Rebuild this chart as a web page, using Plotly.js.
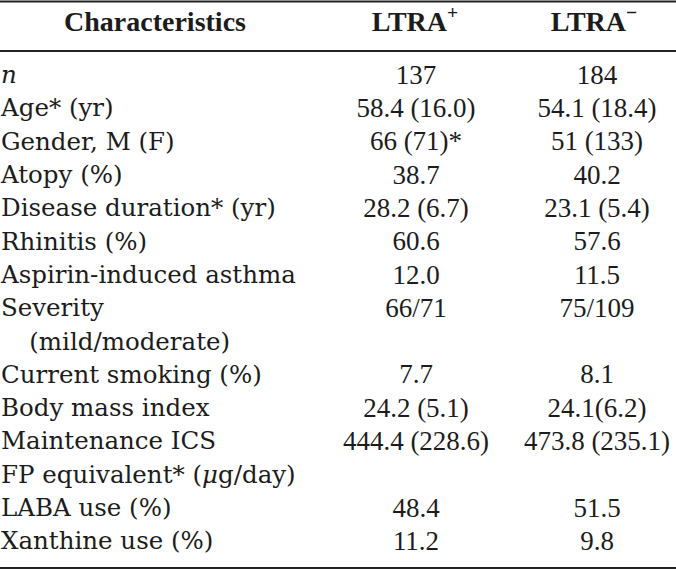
<!DOCTYPE html>
<html>
<head>
<meta charset="utf-8">
<script src="https://cdn.plot.ly/plotly-3.0.1.min.js"></script>
<style>html,body{margin:0;padding:0;background:#fff;}#chart{width:676px;height:570px;}</style>
</head>
<body>
<div id="chart"></div>
<script>
// ---- data ----
const headers = ['<b>Characteristics</b>', '<b>LTRA<sup>+</sup></b>', '<b>LTRA<sup>−</sup></b>'];
const characteristics = [
  '<i>n</i>', 'Age* (yr)', 'Gender, M (F)', 'Atopy (%)', 'Disease duration* (yr)',
  'Rhinitis (%)', 'Aspirin-induced asthma', 'Severity', '\u00a0\u00a0\u00a0\u2009(mild/moderate)',
  'Current smoking (%)', 'Body mass index', 'Maintenance ICS',
  'FP equivalent* (<i>μ</i>g/day)', 'LABA use (%)', 'Xanthine use (%)'
];
const ltraPos = ['137', '58.4 (16.0)', '66 (71)*', '38.7', '28.2 (6.7)', '60.6', '12.0',
  '66/71', '', '7.7', '24.2 (5.1)', '444.4 (228.6)', '', '48.4', '11.2'];
const ltraNeg = ['184', '54.1 (18.4)', '51 (133)', '40.2', '23.1 (5.4)', '57.6', '11.5',
  '75/109', '', '8.1', '24.1(6.2)', '473.8 (235.1)', '', '51.5', '9.8'];

// ---- layout constants ----
const W = 676, H = 570;
const pitch = 33.3;          // px per row
const row0Center = 77;       // px, centre of first body row
const headerCenter = 24;     // px
const colX = [1, 416, 597];
const headerX = [155, 415, 594];

const headerRow = (headerCenter - row0Center) / pitch;
const yTop = -row0Center / pitch;
const yBot = (H - row0Center) / pitch;

const ink = '#1c1c1c';
const labelFont = {family: '"DejaVu Serif", serif', size: 24.5, color: ink};
const valueFont = {family: '"Liberation Serif", "Times New Roman", serif', size: 27, color: ink};
const headFont = {family: '"Liberation Serif", "Times New Roman", serif', size: 28, color: ink};

// build one text trace per column, skipping empty cells
function column(texts, x, pos, font) {
  const idx = texts.map((t, i) => i).filter(i => texts[i] !== '');
  return {x: idx.map(() => x), y: idx, text: idx.map(i => texts[i]), mode: 'text',
    textposition: pos, textfont: font, hoverinfo: 'none', cliponaxis: false};
}

const traces = [
  column(characteristics, colX[0], 'middle right', labelFont),
  column(ltraPos, colX[1], 'middle center', valueFont),
  column(ltraNeg, colX[2], 'middle center', valueFont),
  {x: headerX, y: headers.map(() => headerRow), text: headers, mode: 'text',
   textposition: 'middle center', textfont: headFont, hoverinfo: 'none', cliponaxis: false}
];

const rule = (py, w) => ({type: 'line', xref: 'paper', yref: 'paper', x0: 0, x1: 1,
  y0: 1 - py / H, y1: 1 - py / H, line: {color: '#222', width: w}});

const layout = {
  width: W, height: H, margin: {l: 0, r: 0, t: 0, b: 0},
  paper_bgcolor: '#fff', plot_bgcolor: '#fff', showlegend: false,
  xaxis: {range: [0, W], visible: false, fixedrange: true},
  yaxis: {range: [yBot, yTop], visible: false, fixedrange: true},
  shapes: [rule(1.5, 2), rule(51, 2), rule(568, 2)]
};

Plotly.newPlot('chart', traces, layout, {staticPlot: true, displayModeBar: false});
</script>
</body>
</html>
